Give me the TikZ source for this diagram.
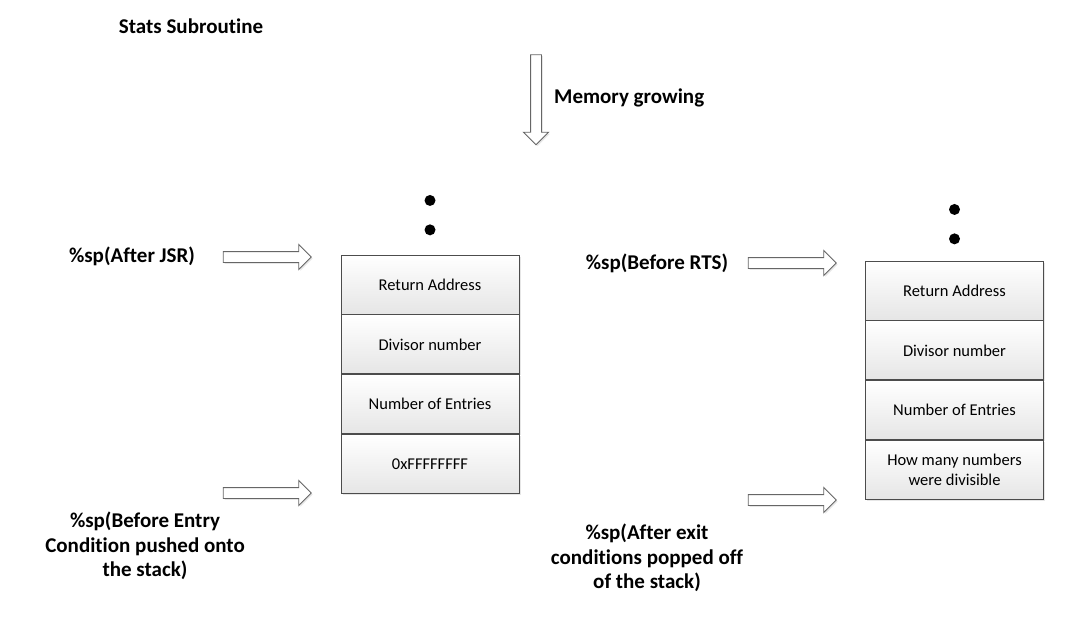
\documentclass[tikz,border=0pt]{standalone}
\usepackage{fontspec}
\setmainfont[Ligatures=NoCommon]{Carlito}
\usetikzlibrary{positioning}
\usetikzlibrary{shapes.arrows}
\usetikzlibrary{shadows}

\tikzset{
  lbl/.style = {font=\fontsize{21}{24.5}\selectfont\bfseries, align=center, inner sep=0pt},
  cell/.style = {draw=black!70, line width=0.9pt, minimum width=178pt, minimum height=59pt,
    inner sep=0pt, top color=white, bottom color=black!10, align=center,
    font=\fontsize{16.5}{20}\selectfont,
    drop shadow={shadow xshift=1.5pt, shadow yshift=-1.5pt, opacity=0.2}},
  ptr/.style = {single arrow, draw=black!60, fill=white, line width=0.9pt,
    inner sep=5pt, text height=0pt, text depth=0pt, text width=0pt,
    single arrow head extend=7pt, minimum height=88pt,
    drop shadow={shadow xshift=1.5pt, shadow yshift=-1.5pt, opacity=0.2}},
  dot/.style = {circle, fill=black, minimum size=11pt, inner sep=0pt}
}

\begin{document}
\begin{tikzpicture}[x=1pt, y=-1pt]
    \useasboundingbox (0,0) rectangle (1081,637);

    % title and direction of growth
    \node[lbl] (title) at (191,26) {Stats Subroutine};
    \node[ptr, minimum height=90pt, shape border rotate=270] (grow) at (536,97) {};
    \node[lbl, anchor=west] (growtxt) at (554,98) {Memory growing};

    % stack at entry
    \begin{scope}
    \node[cell] (ra) at (430,284.5) {Return Address};
    \node[cell, below=0pt of ra] (div) {Divisor number};
    \node[cell, below=0pt of div] (num) {Number of Entries};
    \node[cell, below=0pt of num] (ff) {0xFFFFFFFF};

    \node[dot, above=19pt of ra] (dotb) {};
    \node[dot, above=18pt of dotb] (dota) {};

    \node[ptr] (jsr) at (264.5,257) {};
    \node[ptr] (entry) at (264.5,493) {};

    \node[lbl] (jsrtxt) at (132,256) {\%sp(After JSR)};
    \node[lbl] (entrytxt) at (145,546) {\%sp(Before Entry\\Condition pushed onto\\the stack)};
    \end{scope}

    % stack before return
    \begin{scope}
    \node[cell] (rra) at (954.5,290.5) {Return Address};
    \node[cell, below=0pt of rra] (rdiv) {Divisor number};
    \node[cell, below=0pt of rdiv] (rnum) {Number of Entries};
    \node[cell, below=0pt of rnum] (rcnt) {How many numbers\\were divisible};

    \node[dot, above=16pt of rra] (rdotb) {};
    \node[dot, above=18pt of rdotb] (rdota) {};

    \node[ptr] (rts) at (789.5,263) {};
    \node[ptr] (exit) at (789.5,500) {};

    \node[lbl] (rtstxt) at (657,263) {\%sp(Before RTS)};
    \node[lbl] (exittxt) at (647,558) {\%sp(After exit\\conditions popped off\\of the stack)};
    \end{scope}
\end{tikzpicture}
\end{document}
